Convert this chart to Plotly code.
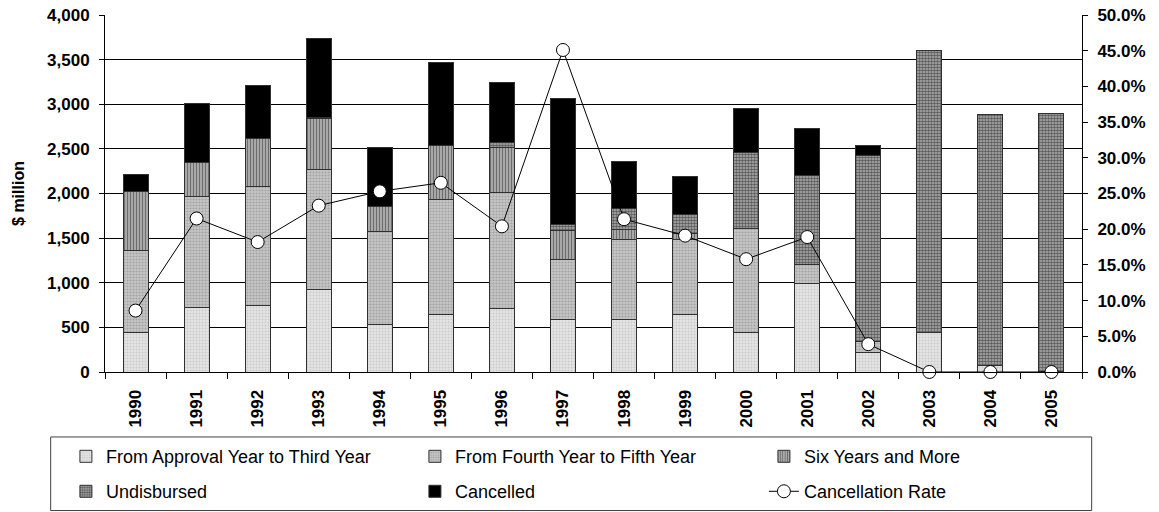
import plotly.graph_objects as go

years = [str(y) for y in range(1990, 2006)]

# Disbursement profile by approval year ($ million)
approval_to_third = [448, 720, 743, 922, 530, 642, 706, 586, 586, 642, 448, 997, 224, 448, 70, 5]
fourth_to_fifth = [915, 1241, 1337, 1352, 1039, 1289, 1300, 672, 896, 848, 1165, 205, 119, 0, 0, 0]
six_years_more = [661, 384, 537, 561, 286, 608, 515, 329, 112, 67, 0, 0, 0, 0, 0, 0]
undisbursed = [0, 0, 0, 18, 0, 0, 45, 71, 243, 209, 848, 1001, 2084, 3152, 2810, 2897]
cancelled = [194, 658, 591, 885, 655, 934, 679, 1401, 519, 426, 486, 523, 109, 0, 0, 0]
cancellation_rate = [0.086, 0.215, 0.182, 0.233, 0.253, 0.265, 0.204, 0.451,
                     0.214, 0.191, 0.158, 0.189, 0.039, 0.0, 0.0, 0.0]

# (name, values, fill pattern, legend row)
series = [
    ("From Approval Year to Third Year", approval_to_third,
     dict(shape=".", fgcolor="#b0b0b0", bgcolor="#e4e4e4", size=3, solidity=0.35), "legend"),
    ("From Fourth Year to Fifth Year", fourth_to_fifth,
     dict(shape=".", fgcolor="#808080", bgcolor="#c6c6c6", size=3, solidity=0.4), "legend"),
    ("Six Years and More", six_years_more,
     dict(shape="|", fgcolor="#1e1e1e", bgcolor="#bcbcbc", size=3, solidity=0.5), "legend"),
    ("Undisbursed", undisbursed,
     dict(shape=".", fgcolor="#000000", bgcolor="#b4b4b4", size=3, solidity=0.6), "legend2"),
    ("Cancelled", cancelled, None, "legend2"),
]

fig = go.Figure()
for name, vals, pat, leg in series:
    marker = dict(line=dict(color="#303030", width=1))
    if pat is None:
        marker["color"] = "#000000"
    else:
        marker["color"] = pat["bgcolor"]
        marker["pattern"] = dict(fillmode="overlay", **pat)
    fig.add_trace(go.Bar(x=years, y=vals, name=name, marker=marker, width=0.41, legend=leg))

fig.add_trace(go.Scatter(
    x=years, y=cancellation_rate, name="Cancellation Rate", yaxis="y2", legend="legend2",
    mode="lines+markers", cliponaxis=False,
    line=dict(color="#000000", width=1),
    marker=dict(symbol="circle", size=13, color="#ffffff",
                line=dict(color="#000000", width=1)),
))

FONT = "Liberation Sans, Arial, sans-serif"
tick_font = dict(family=FONT, size=17, color="#000000", weight="bold")
legend_common = dict(
    orientation="h", x=-0.040, xanchor="left", yanchor="middle",
    borderwidth=0, bgcolor="rgba(0,0,0,0)",
    font=dict(family=FONT, size=18, color="#000000"),
    entrywidth=304, entrywidthmode="pixels", traceorder="normal",
)

fig.update_layout(
    width=1159, height=512,
    margin=dict(l=105, r=77, t=15, b=140, autoexpand=False),
    paper_bgcolor="#ffffff", plot_bgcolor="#ffffff",
    barmode="stack",
    font=dict(family=FONT, color="#000000"),
    xaxis=dict(
        type="category", range=[-0.5, len(years) - 0.5], tickangle=-90, tickfont=tick_font,
        showline=True, linecolor="#000000", linewidth=1,
        ticks="outside", ticklen=6, tickcolor="#000000", tickson="boundaries",
        showgrid=False, ticklabelstandoff=10,
    ),
    yaxis=dict(
        range=[0, 4000], dtick=500, tickformat=",", tickfont=tick_font,
        showline=True, linecolor="#000000", linewidth=1,
        ticks="outside", ticklen=5, tickcolor="#000000",
        showgrid=True, gridcolor="#000000", gridwidth=1,
        zeroline=False, ticklabelstandoff=6,
        title=dict(text="$ million", font=dict(family=FONT, size=16, weight="bold"), standoff=18),
    ),
    yaxis2=dict(
        overlaying="y", side="right", range=[0, 0.5], dtick=0.05, tickformat=".1%",
        tickfont=tick_font, showline=True, linecolor="#000000", linewidth=1,
        ticks="outside", ticklen=5, tickcolor="#000000", showgrid=False, zeroline=False,
        ticklabelstandoff=6,
    ),
    showlegend=True,
    legend=dict(y=-0.237, **legend_common),
    legend2=dict(y=-0.335, **legend_common),
    shapes=[dict(
        type="rect", xref="paper", yref="paper",
        x0=-0.0556, x1=1.0099, y0=-0.388, y1=-0.182,
        line=dict(color="#404040", width=1), layer="below",
    )],
)

fig.write_html("out.html")
